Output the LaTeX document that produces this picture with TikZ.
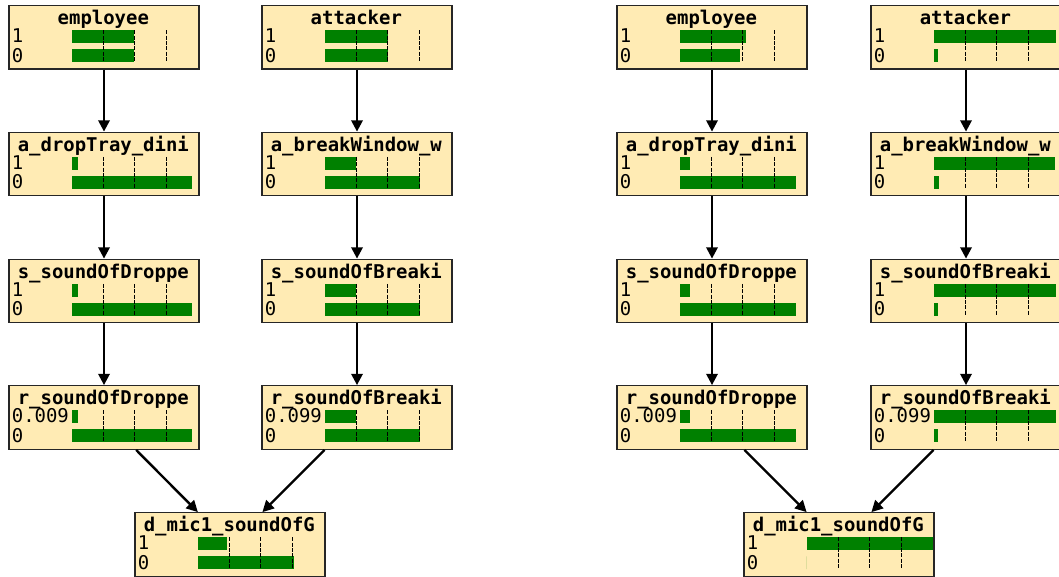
\documentclass[tikz,border=0pt]{standalone}
\usepackage{fontspec}
\newfontfamily\bnfont{DejaVu Sans Mono}
\usepackage{tikz}
\usetikzlibrary{arrows.meta}
\definecolor{cptfill}{RGB}{255,235,180}
\definecolor{bargreen}{RGB}{0,128,0}

% a variable of the network: name, x, y, title, label of state 1, bar 1, bar 0
\newcommand\bnvar[7]{%
  \node[v](#1)at(#2,#3){};
  \begin{scope}[shift={(#1.north west)}]
    \node[anchor=base](#1t)at(95,19.5){\bfseries #4};
    \node[anchor=base west](#1a)at(3.3,37.8){#5};
    \node[anchor=base west](#1b)at(3.3,57.2){0};
    \fill[bar](63.3,25.3)rectangle++(#6,12.7);
    \fill[bar](63.3,44.3)rectangle++(#7,12.7);
    \foreach\t in{31.5,63,94.5}{\draw[tick](63.3+\t,25.3)--++(0,31.7);}
  \end{scope}}

\begin{document}
\begin{tikzpicture}[inner sep=0pt,x=0.75pt,y=-0.75pt,font=\bnfont\fontsize{14.2}{16}\selectfont]
  \tikzstyle{v}=[rectangle,draw=black!85,line width=1pt,fill=cptfill,minimum width=142.5pt,minimum height=47.6pt]
  \tikzstyle{bar}=[fill=bargreen]
  \tikzstyle{tick}=[black,line width=0.75pt,dash pattern=on 3pt off 1pt]
  \useasboundingbox(0,0)rectangle(1059,576);
  % prior
  \bnvar{empL}{104}{37.3}{employee}{1}{62.7}{62.7}
  \bnvar{attL}{357}{37.3}{attacker}{1}{63}{63}
  \bnvar{dropL}{104}{164}{a\_dropTray\_dini}{1}{6.7}{120}
  \bnvar{brkL}{357}{164}{a\_breakWindow\_w}{1}{31}{95}
  \bnvar{sdropL}{104}{291}{s\_soundOfDroppe}{1}{6.7}{120}
  \bnvar{sbrkL}{357}{291}{s\_soundOfBreaki}{1}{31}{95}
  \bnvar{rdropL}{104}{417.5}{r\_soundOfDroppe}{0.009}{6.7}{120}
  \bnvar{rbrkL}{357}{417.5}{r\_soundOfBreaki}{0.099}{31}{95}
  \bnvar{micL}{230}{544.5}{d\_mic1\_soundOfG}{1}{29.3}{96.7}
  % posterior
  \bnvar{empR}{712}{37.3}{employee}{1}{66}{60}
  \bnvar{attR}{966}{37.3}{attacker}{1}{122.3}{4}
  \bnvar{dropR}{712}{164}{a\_dropTray\_dini}{1}{10.3}{116.3}
  \bnvar{brkR}{966}{164}{a\_breakWindow\_w}{1}{121.3}{5.7}
  \bnvar{sdropR}{712}{291}{s\_soundOfDroppe}{1}{10}{116}
  \bnvar{sbrkR}{966}{291}{s\_soundOfBreaki}{1}{122}{4}
  \bnvar{rdropR}{712}{417.5}{r\_soundOfDroppe}{0.009}{10}{116}
  \bnvar{rbrkR}{966}{417.5}{r\_soundOfBreaki}{0.099}{122}{4.7}
  \bnvar{micR}{839}{544.5}{d\_mic1\_soundOfG}{1}{126.5}{0}
  \tikzstyle{e}=[-{Triangle[length=8.5pt,width=8.5pt]},draw=black,line width=1.8pt]
  \foreach\s in{L,R}{
    \foreach\o/\d in{emp/drop,drop/sdrop,sdrop/rdrop,rdrop/mic,att/brk,brk/sbrk,sbrk/rbrk,rbrk/mic}{\draw[e](\o\s)--(\d\s);}}
\end{tikzpicture}
\end{document}
